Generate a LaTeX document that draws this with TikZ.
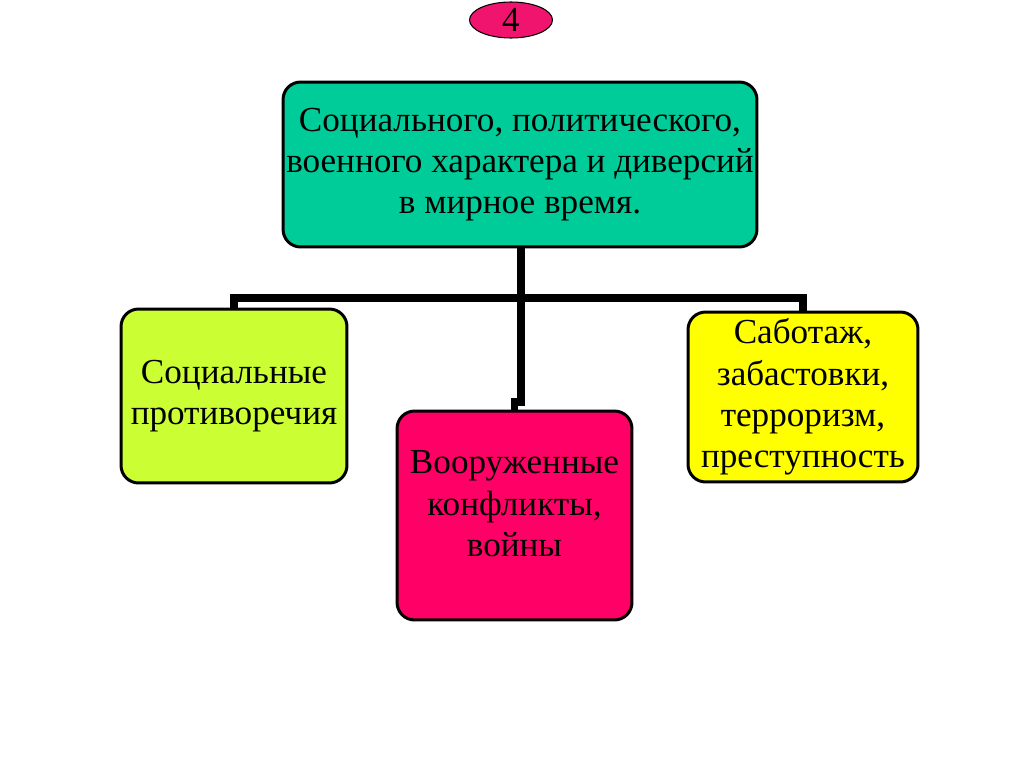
\documentclass[tikz,border=0pt]{standalone}
\usepackage{fontspec}
\setmainfont{Liberation Serif}
\usetikzlibrary{positioning,shapes.geometric}
\definecolor{TopTeal}{HTML}{00CC99}
\definecolor{LeftLime}{HTML}{CCFF33}
\definecolor{MidPink}{HTML}{FF0066}
\definecolor{RightYellow}{HTML}{FFFF00}
\definecolor{BadgePink}{HTML}{F0146E}
\tikzset{
  card/.style={draw=black, line width=1.7pt, rounded corners=10pt,
               align=center, inner xsep=0.5mm, inner ysep=1mm, font=\fontsize{20}{23.5}\selectfont},
  link/.style={draw=black, line width=4pt},
}

\begin{document}
\begin{tikzpicture}[x=0.02cm, y=-0.02cm]
  \useasboundingbox (0,0) rectangle (1024,767);
  \node[ellipse, draw=black, line width=0.6pt, fill=BadgePink, minimum width=1.66cm,
        minimum height=0.72cm, inner sep=0pt, font=\fontsize{20}{24}\selectfont] (badge) at (511,20) {4};
  \node[card, fill=TopTeal, minimum width=9.48cm, minimum height=3.3cm] (top) at (520,164.5)
    {Социального, политического,\\военного характера и диверсий\\в мирное время.};
  \node[card, fill=LeftLime, minimum width=4.52cm, minimum height=3.48cm] (left) at (234,396)
    {Социальные\\противоречия};
  \node[card, fill=MidPink, minimum width=4.7cm, minimum height=4.18cm] (mid) at (514.5,515.5)
    {Вооруженные\\конфликты,\\войны\\[-0.35cm]};
  \node[card, fill=RightYellow, minimum width=4.6cm, minimum height=3.4cm] (right) at (803,397)
    {Саботаж,\\забастовки,\\терроризм,\\преступность};
  \coordinate (bar) at (521,298);
  \coordinate (jog) at (521,402);
  \draw[link] (bar |- top.south) -- (bar);
  \draw[link] (left.north) |- (bar) -| (right.north);
  \draw[link] (bar) -- (jog) -| (mid.north);
\end{tikzpicture}
\end{document}
